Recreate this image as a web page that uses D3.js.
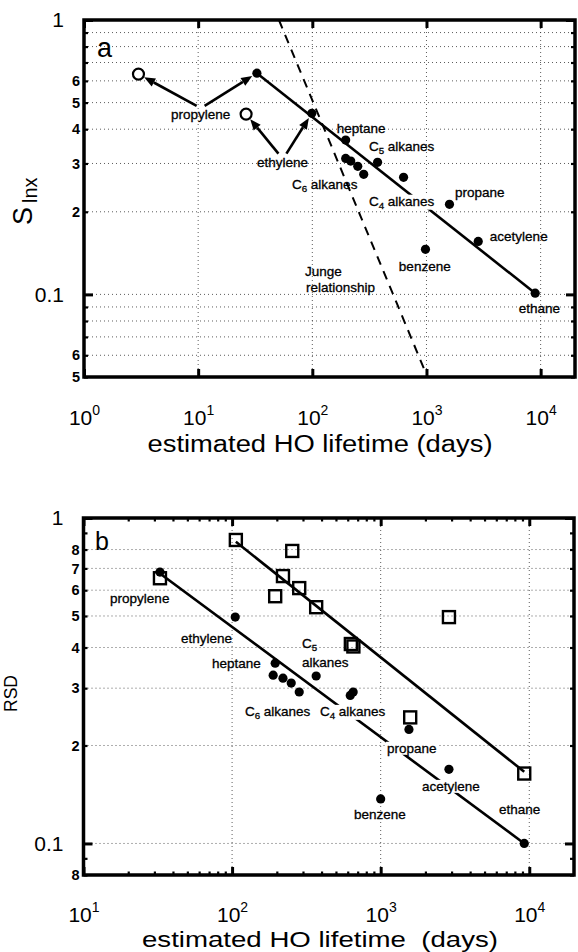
<!DOCTYPE html>
<html>
<head>
<meta charset="utf-8">
<script src="https://cdn.jsdelivr.net/npm/d3@7/dist/d3.min.js"></script>
<style>
body{margin:0;background:#fff;}
svg text{font-family:"Liberation Sans",Arial,Helvetica,sans-serif;}
</style>
</head>
<body>
<svg id="chart" width="578" height="952"></svg>
<script>
// ---------------- Panel a data ----------------
const aOpenX = [3.0, 26.3];
const aOpenY = [0.635, 0.454];
const aDotX = [32.7, 99, 196, 196, 217, 250, 282, 373, 630, 1590, 2840, 980, 8960];
const aDotY = [0.64, 0.457, 0.365, 0.313, 0.306, 0.293, 0.274, 0.303, 0.267, 0.213, 0.156, 0.146, 0.101];
const aFitX = [32.7, 8960];
const aFitY = [0.64, 0.101];
const jungeX = [51, 1000];
const jungeY = [1, 0.051];
const aLabels = ["propylene","ethylene","heptane","C_5 alkanes","C_6 alkanes","C_4 alkanes","propane","acetylene","benzene","Junge","relationship","ethane"];
const aLabelX = [5.78, 32.7, 164, 313, 66.3, 313, 1774, 3590, 573, 86.1, 87.9, 6443];
const aLabelY = [0.454, 0.304, 0.404, 0.347, 0.2525, 0.219, 0.236, 0.163, 0.127, 0.1217, 0.1064, 0.0892];
const aArrowFrom = [0, 0, 1, 1];
const aArrowToX = [3.0, 32.7, 26.3, 99];
const aArrowToY = [0.635, 0.64, 0.454, 0.457];
const aXTicks = [1, 10, 100, 1000, 10000];
const aXTickExp = ["0", "1", "2", "3", "4"];
const aYTicks = [1, 0.9, 0.8, 0.7, 0.6, 0.5, 0.4, 0.3, 0.2, 0.1, 0.09, 0.08, 0.07, 0.06, 0.05];
const aYTickText = ["1", "", "", "", "6", "5", "4", "3", "2", "0.1", "", "", "", "6", "5"];

// ---------------- Panel b data ----------------
const bDotX = [32.7, 105, 195, 189, 220, 250, 283, 368, 624, 653, 1550, 2880, 1000, 9250];
const bDotY = [0.682, 0.496, 0.358, 0.329, 0.322, 0.311, 0.292, 0.327, 0.285, 0.292, 0.224, 0.169, 0.137, 0.1];
const bSqX = [32.7, 106, 254, 220, 195, 283, 368, 630, 655, 2880, 1580, 9250];
const bSqY = [0.653, 0.856, 0.792, 0.663, 0.575, 0.609, 0.532, 0.41, 0.403, 0.496, 0.244, 0.164];
const bFitDotX = [32.7, 9250];
const bFitDotY = [0.675, 0.1];
const bFitSqX = [106, 9250];
const bFitSqY = [0.845, 0.166];
const bLabels = ["propylene","ethylene","heptane","C_5","alkanes","C_6 alkanes","C_4 alkanes","propane","acetylene","benzene","ethane"];
const bLabelX = [15.1, 45.3, 73.2, 295, 295, 122, 390, 1103, 1897, 661, 6250];
const bLabelY = [0.5677, 0.428, 0.3584, 0.413, 0.361, 0.255, 0.255, 0.1964, 0.150, 0.123, 0.1275];
const bXTicks = [10, 100, 1000, 10000];
const bXTickExp = ["1", "2", "3", "4"];
const bXMinor = [20,30,40,50,60,70,80,90,200,300,400,500,600,700,800,900,2000,3000,4000,5000,6000,7000,8000,9000];
const bYTicks = [1, 0.9, 0.8, 0.7, 0.6, 0.5, 0.4, 0.3, 0.2, 0.1, 0.09, 0.08];
const bYTickText = ["1", "", "8", "7", "6", "5", "4", "3", "2", "0.1", "", "8"];

const svg = d3.select("#chart");

function addLabel(g, str, px, py, size, knock) {
  const m = str.match(/^(.*?)_(\d)(.*)$/);
  const t = g.append("text").attr("x", px).attr("y", py).attr("dy", "0.35em")
    .attr("font-size", size).attr("fill", "#000").attr("stroke", "#000").attr("stroke-width", 0.3);
  if (m) {
    t.append("tspan").text(m[1]);
    t.append("tspan").attr("dy", 3).attr("font-size", size * 0.72).text(m[2]);
    if (m[3]) t.append("tspan").attr("dy", -3).text(m[3]);
  } else t.text(str);
  if (knock) {
    const bb = t.node().getBBox();
    g.insert("rect", "text").attr("x", bb.x - 1).attr("y", bb.y + 1).attr("width", bb.width + 2).attr("height", bb.height - 2).attr("fill", "#fff");
  }
  return t;
}

function panel(o) {
  const g = svg.append("g");
  const x = d3.scaleLog().domain(o.xd).range(o.xr);
  const y = d3.scaleLog().domain(o.yd).range(o.yr);
  const [L, R] = o.xr, [B, T] = o.yr;

  // grid
  const grid = g.append("g").attr("stroke", "#333").attr("stroke-width", 0.8).attr("stroke-dasharray", "1,3");
  grid.selectAll(".gy").data(o.gridY).join("line").attr("x1", L).attr("x2", R).attr("y1", d => y(d)).attr("y2", d => y(d));
  grid.selectAll(".gx").data(o.gridX).join("line").attr("x1", d => x(d)).attr("x2", d => x(d)).attr("y1", T).attr("y2", B);

  // axes
  const bottom = g.append("g").attr("transform", `translate(0,${B})`)
    .call(d3.axisBottom(x).tickValues(o.xTicks).tickSizeInner(-8).tickSizeOuter(0).tickFormat(""));
  bottom.selectAll(".tick line").attr("stroke-width", 3);
  bottom.selectAll(".tick text").each(function (d, i) {
    const t = d3.select(this).attr("y", o.xLabY - B).attr("dy", null).attr("font-size", 21);
    t.append("tspan").text("10");
    t.append("tspan").attr("dy", -10).attr("font-size", 14).text(o.xExp[i]);
  });
  const top = g.append("g").attr("transform", `translate(0,${T})`)
    .call(d3.axisTop(x).tickValues(o.xTicks).tickSizeInner(-8).tickSizeOuter(0).tickFormat(""));
  top.selectAll(".tick line").attr("stroke-width", 3);
  if (o.xMinor) {
    g.append("g").attr("transform", `translate(0,${B})`)
      .call(d3.axisBottom(x).tickValues(o.xMinor).tickSizeInner(-3.5).tickSizeOuter(0).tickFormat(""))
      .selectAll(".tick line").attr("stroke-width", 2.2);
    g.append("g").attr("transform", `translate(0,${T})`)
      .call(d3.axisTop(x).tickValues(o.xMinor).tickSizeInner(-3.5).tickSizeOuter(0).tickFormat(""))
      .selectAll(".tick line").attr("stroke-width", 2.2);
  }
  const isMajor = d => Math.abs(Math.log10(d) - Math.round(Math.log10(d))) < 1e-9;
  const left = g.append("g").attr("transform", `translate(${L},0)`)
    .call(d3.axisLeft(y).tickValues(o.yTicks).tickSizeInner(-4).tickSizeOuter(0).tickPadding(4).tickFormat((d, i) => o.yText[i]));
  left.selectAll(".tick line").attr("x2", d => isMajor(d) ? 9 : 4).attr("stroke-width", d => isMajor(d) ? 3 : 2.2);
  left.selectAll(".tick text")
    .attr("x", d => isMajor(d) ? -20 : -4)
    .attr("font-size", d => isMajor(d) ? 21 : 14.5)
    .attr("font-weight", d => isMajor(d) ? "normal" : "bold");
  const right = g.append("g").attr("transform", `translate(${R},0)`)
    .call(d3.axisRight(y).tickValues(o.yTicks).tickSizeInner(-4).tickSizeOuter(0).tickFormat(""));
  right.selectAll(".tick line").attr("x2", d => isMajor(d) ? -9 : -4).attr("stroke-width", d => isMajor(d) ? 3 : 2.2);
  g.selectAll(".domain").remove();

  return { g, x, y, L, R, B, T };
}

const line = (x, y) => d3.line().x(d => x(d[0])).y(d => y(d[1]));

// ================= Panel a =================
{
  const P = panel({
    xd: [1, 20000], xr: [84, 575], yd: [0.05, 1], yr: [377, 20],
    gridY: [0.9, 0.8, 0.7, 0.6, 0.5, 0.4, 0.3, 0.2, 0.1, 0.09, 0.08, 0.07, 0.06],
    gridX: [10, 100, 1000, 10000],
    xTicks: aXTicks, xExp: aXTickExp, xLabY: 425,
    yTicks: aYTicks, yText: aYTickText
  });
  const { g, x, y } = P;
  g.append("path").datum(d3.zip(aFitX, aFitY)).attr("d", line(x, y)).attr("stroke", "#000").attr("stroke-width", 2.6).attr("fill", "none");
  g.append("path").datum(d3.zip(jungeX, jungeY)).attr("d", line(x, y)).attr("stroke", "#000").attr("stroke-width", 2).attr("stroke-dasharray", "9,7").attr("fill", "none");
  const lg = g.append("g");
  const labelNodes = aLabels.map((s, i) => addLabel(lg, s, x(aLabelX[i]), y(aLabelY[i]), 13.5, s === "C_4 alkanes"));
  const ag = g.append("g");
  aArrowFrom.forEach((li, k) => {
    const bb = labelNodes[li].node().getBBox();
    const side = (k % 2 === 0) ? -1 : 1;
    const sx = bb.x + bb.width / 2 + side * 4, sy = bb.y - 1;
    const tx = x(aArrowToX[k]), ty = y(aArrowToY[k]);
    const dx = tx - sx, dy = ty - sy, len = Math.hypot(dx, dy);
    const ux = dx / len, uy = dy / len;
    const r = (k % 2 === 0) ? 6.5 : 5.5;
    const ex = tx - ux * r, ey = ty - uy * r;
    const bx = ex - ux * 11, by = ey - uy * 11;
    ag.append("line").attr("x1", sx).attr("y1", sy).attr("x2", bx).attr("y2", by).attr("stroke", "#000").attr("stroke-width", 2.6);
    ag.append("path").attr("d", `M${ex},${ey}L${bx - uy * 4.5},${by + ux * 4.5}L${bx + uy * 4.5},${by - ux * 4.5}Z`).attr("fill", "#000");
  });
  g.append("g").selectAll("circle").data(d3.zip(aDotX, aDotY)).join("circle")
    .attr("cx", d => x(d[0])).attr("cy", d => y(d[1])).attr("r", 4.6).attr("fill", "#000");
  g.append("g").selectAll("circle").data(d3.zip(aOpenX, aOpenY)).join("circle")
    .attr("cx", d => x(d[0])).attr("cy", d => y(d[1])).attr("r", 5.5).attr("fill", "#fff").attr("stroke", "#000").attr("stroke-width", 2.2);
  g.append("text").attr("x", x(1.30)).attr("y", y(0.733)).attr("font-size", 27).text("a");
  g.append("rect").attr("x", P.L).attr("y", P.T).attr("width", P.R - P.L).attr("height", P.B - P.T).attr("fill", "none").attr("stroke", "#000").attr("stroke-width", 3.5);
  g.append("text").attr("x", 320).attr("y", 452).attr("text-anchor", "middle").attr("font-size", 23)
    .attr("textLength", 345).attr("lengthAdjust", "spacingAndGlyphs").text("estimated HO lifetime (days)");
  const yt = g.append("text").attr("transform", "translate(32,225) rotate(-90)").attr("font-size", 27);
  yt.append("tspan").text("S");
  yt.append("tspan").attr("dx", 4).attr("dy", 5).attr("font-size", 20).text("lnx");
}

// ================= Panel b =================
{
  const P = panel({
    xd: [10, 20000], xr: [83.5, 574], yd: [0.08, 1], yr: [875, 518],
    gridY: [0.8, 0.7, 0.6, 0.5, 0.4, 0.3, 0.2, 0.1],
    gridX: [100, 1000, 10000],
    xTicks: bXTicks, xExp: bXTickExp, xLabY: 922, xMinor: bXMinor,
    yTicks: bYTicks, yText: bYTickText
  });
  const { g, x, y } = P;
  g.append("path").datum(d3.zip(bFitDotX, bFitDotY)).attr("d", line(x, y)).attr("stroke", "#000").attr("stroke-width", 2.6).attr("fill", "none");
  g.append("path").datum(d3.zip(bFitSqX, bFitSqY)).attr("d", line(x, y)).attr("stroke", "#000").attr("stroke-width", 2.6).attr("fill", "none");
  const knock = new Set(["C_4 alkanes", "propane", "acetylene"]);
  const lg = g.append("g");
  bLabels.forEach((s, i) => addLabel(lg, s, x(bLabelX[i]), y(bLabelY[i]), 13.5, knock.has(s)));
  g.append("g").selectAll("rect").data(d3.zip(bSqX, bSqY)).join("rect")
    .attr("x", d => x(d[0]) - 6).attr("y", d => y(d[1]) - 6).attr("width", 12).attr("height", 12)
    .attr("fill", "none").attr("stroke", "#000").attr("stroke-width", 2.4);
  g.append("g").selectAll("circle").data(d3.zip(bDotX, bDotY)).join("circle")
    .attr("cx", d => x(d[0])).attr("cy", d => y(d[1])).attr("r", 4.6).attr("fill", "#000");
  g.append("text").attr("x", x(11.95)).attr("y", y(0.797)).attr("font-size", 25).text("b");
  g.append("rect").attr("x", P.L).attr("y", P.T).attr("width", P.R - P.L).attr("height", P.B - P.T).attr("fill", "none").attr("stroke", "#000").attr("stroke-width", 3.5);
  g.append("text").attr("x", 320).attr("y", 947).attr("text-anchor", "middle").attr("font-size", 22.5)
    .attr("textLength", 356).attr("lengthAdjust", "spacingAndGlyphs").attr("xml:space", "preserve").style("white-space", "pre")
    .text("estimated HO lifetime  (days)");
  g.append("text").attr("transform", "translate(17,712) rotate(-90)").attr("font-size", 19)
    .attr("textLength", 37).attr("lengthAdjust", "spacingAndGlyphs").text("RSD");
}
</script>
</body>
</html>
